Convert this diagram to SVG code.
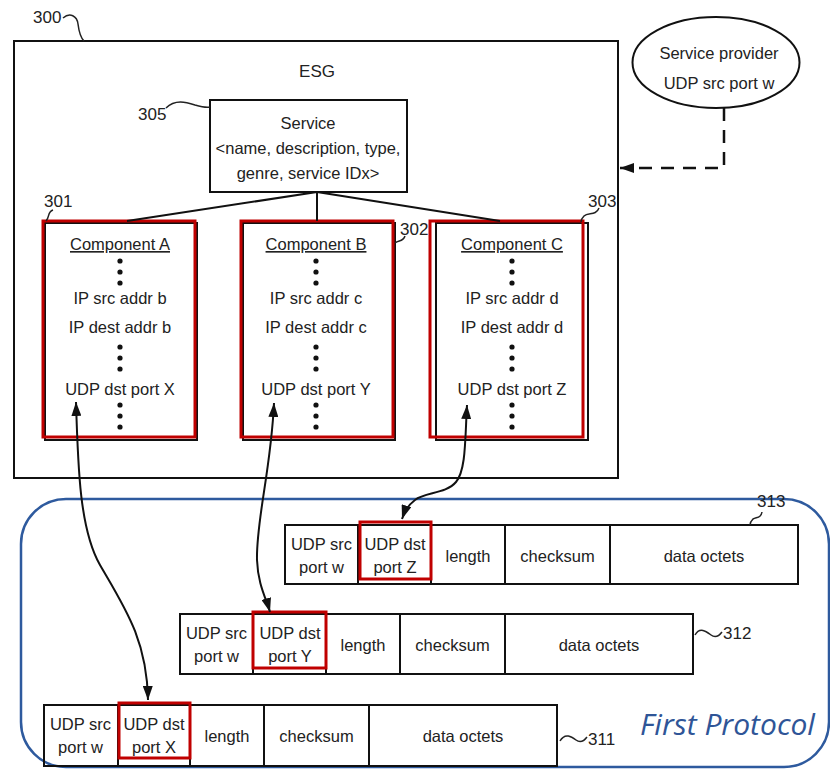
<svg xmlns="http://www.w3.org/2000/svg" width="830" height="771" viewBox="0 0 830 771">
<defs>
<style>
text{font-family:"Liberation Sans",Arial,sans-serif;font-size:16.5px;fill:#222;}
.c{text-anchor:middle;}
.box{fill:none;stroke:#111;stroke-width:2;}
.red{fill:none;stroke:#C00000;stroke-width:3;}
.ln{fill:none;stroke:#111;stroke-width:2;}
.lead{fill:none;stroke:#222;stroke-width:1.5;}
.dot{fill:#111;}
.fp{font-family:"Open Sans",sans-serif;font-style:italic;font-size:30px;fill:#2F5597;}
</style>
<marker id="ah" markerWidth="14" markerHeight="10" refX="14" refY="5" orient="auto-start-reverse" markerUnits="userSpaceOnUse">
<path d="M0,0 L14,5 L0,10 z" fill="#111"/>
</marker>
<g id="dots3"><circle cx="0" cy="0" r="2.6"/><circle cx="0" cy="11" r="2.6"/><circle cx="0" cy="22" r="2.6"/></g>
</defs>
<rect width="830" height="771" fill="#fff"/>

<!-- Protocol region -->
<g id="first-protocol">
<rect x="21" y="499" width="808" height="268" rx="45" ry="45" fill="none" stroke="#2E5A9E" stroke-width="2.5"/>
<text class="fp" x="640" y="735">First Protocol</text>
</g>

<!-- ESG -->
<g id="esg">
<rect class="box" x="14" y="41" width="604" height="437"/>
<text class="c" x="317" y="77" style="font-size:17px">ESG</text>
<text x="33" y="23" style="font-size:17px">300</text>
<path class="lead" d="M63,18 C70,12 77,16 78,24 C79,32 80,37 84,41"/>
</g>

<g id="service">
<rect class="box" x="210" y="100" width="197" height="92"/>
<text class="c" x="308" y="129">Service</text>
<text class="c" x="308" y="154">&lt;name, description, type,</text>
<text class="c" x="308" y="179">genre, service IDx&gt;</text>
<text x="138" y="120" style="font-size:17px">305</text>
<path class="lead" d="M166,108 C175,99 186,102 195,105 C202,107 206,108 210,107"/>
</g>

<g id="component-a">
<rect class="box" x="45" y="223" width="152" height="217"/>
<rect class="red" x="43" y="221" width="152" height="216"/>
<text class="c" x="120" y="250" text-decoration="underline">Component A</text>
<use href="#dots3" x="120" y="261" class="dot"/>
<text class="c" x="120" y="304">IP src addr b</text>
<text class="c" x="120" y="333">IP dest addr b</text>
<use href="#dots3" x="120" y="347" class="dot"/>
<text class="c" x="120" y="395">UDP dst port X</text>
<use href="#dots3" x="120" y="405" class="dot"/>
<text x="44" y="207" style="font-size:17px">301</text>
<path class="lead" d="M53,210 C47,212 50,217 46,221"/>
</g>

<g id="component-b">
<rect class="box" x="243" y="223" width="152" height="217"/>
<rect class="red" x="241" y="221" width="152" height="216"/>
<text class="c" x="316" y="250" text-decoration="underline">Component B</text>
<use href="#dots3" x="316" y="261" class="dot"/>
<text class="c" x="316" y="304">IP src addr c</text>
<text class="c" x="316" y="333">IP dest addr c</text>
<use href="#dots3" x="316" y="347" class="dot"/>
<text class="c" x="316" y="395">UDP dst port Y</text>
<use href="#dots3" x="316" y="405" class="dot"/>
<text x="400" y="235" style="font-size:17px">302</text>
<path class="lead" d="M405,236 C403,242 399,240 395,243"/>
</g>

<g id="component-c">
<rect class="box" x="436" y="223" width="152" height="217"/>
<rect class="red" x="430" y="221" width="153" height="216"/>
<text class="c" x="512" y="250" text-decoration="underline">Component C</text>
<use href="#dots3" x="512" y="261" class="dot"/>
<text class="c" x="512" y="304">IP src addr d</text>
<text class="c" x="512" y="333">IP dest addr d</text>
<use href="#dots3" x="512" y="347" class="dot"/>
<text class="c" x="512" y="395">UDP dst port Z</text>
<use href="#dots3" x="512" y="405" class="dot"/>
<text x="588" y="207" style="font-size:17px">303</text>
<path class="lead" d="M599,208 C596,216 588,212 584,216 C582,218 581,220 581,222"/>
</g>

<g id="service-provider">
<ellipse cx="716" cy="62.5" rx="83.5" ry="45.5" fill="#fff" stroke="#111" stroke-width="2"/>
<text class="c" x="719" y="59">Service provider</text>
<text class="c" x="719" y="89">UDP src port w</text>
</g>

<!-- Packets -->
<g id="packet-313" transform="translate(285,525)">
<rect class="box" x="0" y="0" width="513" height="59"/>
<path class="ln" d="M73,0V59M146,0V59M220,0V59M325,0V59"/>
<rect class="red" x="75" y="-3" width="71" height="57"/>
<text class="c" x="36.5" y="25">UDP src</text><text class="c" x="36.5" y="48">port w</text>
<text class="c" x="110" y="25">UDP dst</text><text class="c" x="110" y="48">port Z</text>
<text class="c" x="183" y="37">length</text>
<text class="c" x="272.5" y="37">checksum</text>
<text class="c" x="419" y="37">data octets</text>
<text x="472" y="-18" style="font-size:17px">313</text>
<path class="lead" d="M477,-13 C476,-7 472,-8 468,-6 C466,-4 465,-2 465,0"/>
</g>

<g id="packet-312" transform="translate(180,614)">
<rect class="box" x="0" y="0" width="513" height="60"/>
<path class="ln" d="M73,0V60M146,0V60M220,0V60M325,0V60"/>
<rect class="red" x="73" y="-2" width="73" height="56"/>
<text class="c" x="36.5" y="25">UDP src</text><text class="c" x="36.5" y="48">port w</text>
<text class="c" x="110" y="25">UDP dst</text><text class="c" x="110" y="48">port Y</text>
<text class="c" x="183" y="37">length</text>
<text class="c" x="272.5" y="37">checksum</text>
<text class="c" x="419" y="37">data octets</text>
<path class="lead" d="M515,21 C520,12 527,18 531,21 C535,24 539,22 542,18"/>
<text x="543" y="25" style="font-size:17px">312</text>
</g>

<g id="packet-311" transform="translate(44,705)">
<rect class="box" x="0" y="0" width="513" height="61"/>
<path class="ln" d="M74,0V61M146,0V61M220,0V61M325,0V61"/>
<rect class="red" x="75" y="-2" width="71" height="55"/>
<text class="c" x="36.5" y="25">UDP src</text><text class="c" x="36.5" y="48">port w</text>
<text class="c" x="110" y="25">UDP dst</text><text class="c" x="110" y="48">port X</text>
<text class="c" x="183" y="37">length</text>
<text class="c" x="272.5" y="37">checksum</text>
<text class="c" x="419" y="37">data octets</text>
<path class="lead" d="M516,36 C521,27 528,32 532,35 C536,38 540,36 543,32"/>
<text x="544" y="40" style="font-size:17px">311</text>
</g>

<!-- Connectors -->
<g id="connectors">
<path class="ln" d="M317,192 L127,221 M317,192 L317,221 M317,192 L500,221"/>
<path d="M724,108 V168 H620" fill="none" stroke="#111" stroke-width="2.5" stroke-dasharray="13,9" marker-end="url(#ah)"/>
<path class="ln" d="M76,402 C78,470 80,530 100,565 C125,608 147,640 148,700" marker-start="url(#ah)" marker-end="url(#ah)"/>
<path class="ln" d="M274,403 C271,470 256,520 257,560 C258,585 266,598 270,612" marker-start="url(#ah)" marker-end="url(#ah)"/>
<path class="ln" d="M467,405 C465,440 466,470 456,482 C446,494 425,492 415,500 C408,505 405,510 402,519" marker-start="url(#ah)" marker-end="url(#ah)"/>
</g>
</svg>
